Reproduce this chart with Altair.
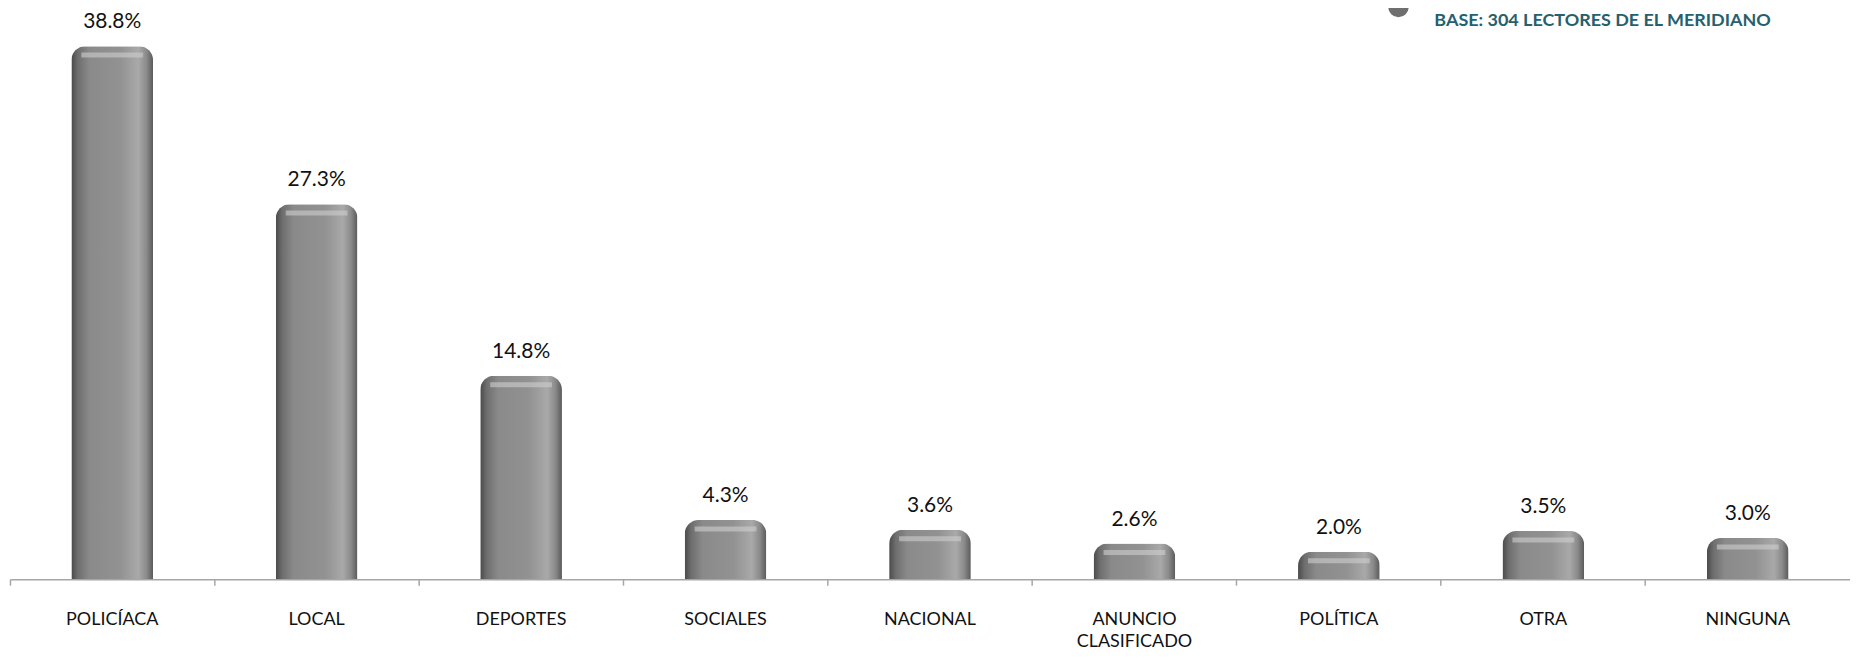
import altair as alt
import pandas as pd

categories = ["POLICÍACA", "LOCAL", "DEPORTES", "SOCIALES", "NACIONAL",
              "ANUNCIO CLASIFICADO", "POLÍTICA", "OTRA", "NINGUNA"]
values = [38.8, 27.3, 14.8, 4.3, 3.6, 2.6, 2.0, 3.5, 3.0]
base_note = ["BASE:  304 LECTORES DE EL MERIDIANO"]

df = pd.DataFrame({"cat": categories, "value": values})
note_df = pd.DataFrame({"note": base_note})

W, H = 1846, 572
FONT = "Lato"

x_enc = alt.X(
    "cat:N", sort=categories,
    scale=alt.Scale(paddingInner=0, paddingOuter=0),
    axis=alt.Axis(
        title=None, labelAngle=0, bandPosition=0,
        domainColor="#A6A6A6", domainWidth=1.5,
        tickColor="#A6A6A6", tickSize=6, tickWidth=1.5,
        labelFont=FONT, labelFontSize=18, labelColor="#111111",
        labelPadding=25, labelLineHeight=23, labelBaseline="top",
        labelExpr="datum.label == 'ANUNCIO CLASIFICADO' ? ['ANUNCIO', 'CLASIFICADO'] : datum.label",
    ),
)
y_enc = alt.Y("value:Q", scale=alt.Scale(domain=[0, 41.5], nice=False), axis=None)

grad = alt.Gradient(
    gradient="linear", x1=0, x2=1, y1=0, y2=0,
    stops=[
        alt.GradientStop(color="#4a4a4a", offset=0),
        alt.GradientStop(color="#6e6e6e", offset=0.08),
        alt.GradientStop(color="#8a8a8a", offset=0.22),
        alt.GradientStop(color="#929292", offset=0.6),
        alt.GradientStop(color="#a9a9a9", offset=0.82),
        alt.GradientStop(color="#8a8a8a", offset=0.92),
        alt.GradientStop(color="#5a5a5a", offset=1),
    ],
)

base = alt.Chart(df).encode(x=x_enc, y=y_enc)

bars = base.mark_bar(
    size=82, color=grad,
    cornerRadiusTopLeft=14, cornerRadiusTopRight=14,
)

highlight = base.mark_tick(
    size=62, thickness=5, yOffset=9, color="#cfcfcf", opacity=0.6,
)

labels = base.transform_calculate(
    lab="format(datum.value, '.1f') + '%'"
).mark_text(
    dy=-18, baseline="alphabetic", font=FONT, fontSize=21, color="#111111",
).encode(text="lab:N")

note_text = alt.Chart(note_df).mark_text(
    align="left", baseline="alphabetic", font=FONT, fontSize=18,
    fontWeight="bold", color="#265F6E",
).encode(x=alt.value(1429), y=alt.value(17), text="note:N")

note_dot = alt.Chart(note_df).mark_point(
    filled=True, size=420, color="#6f6f6f", opacity=1,
).encode(x=alt.value(1393), y=alt.value(-2))

chart = alt.layer(bars, highlight, labels, note_dot, note_text).properties(
    width=W, height=H,
    autosize=alt.AutoSizeParams(type="none"),
    padding={"left": 2, "top": 0, "right": 0, "bottom": 74},
).configure(background="white").configure_view(stroke=None)

chart.save("out.html", embed_options={"renderer": "svg", "actions": False})
